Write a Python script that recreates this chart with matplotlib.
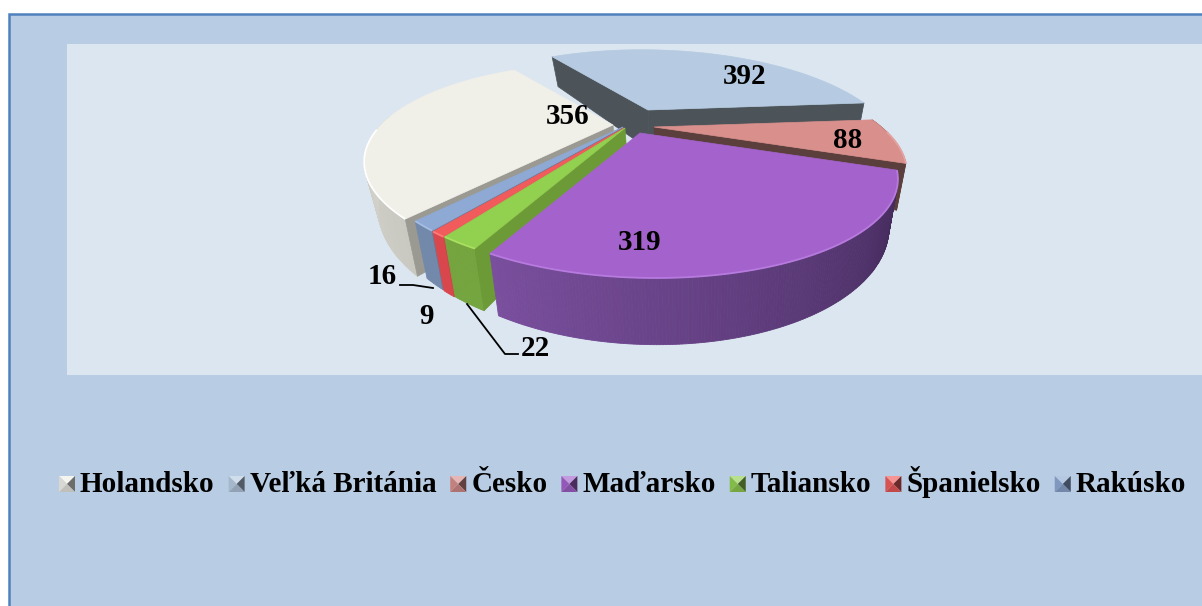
import matplotlib
matplotlib.use('Agg')
import matplotlib.pyplot as plt
from matplotlib.colors import to_rgb
from matplotlib.patches import Polygon, Rectangle
import numpy as np

# data
countries = ['Holandsko', 'Veľká Británia', 'Česko', 'Maďarsko', 'Taliansko', 'Španielsko', 'Rakúsko']
values = [356, 392, 88, 319, 22, 9, 16]

# look of every slice, same order as countries
top_col = ['#f0efe8', '#b6cbe1', '#d98f8c', '#a463cc', '#92d050', '#f15b5b', '#8ea9d3']
rim_start = ['#e6e6de', '#8fa1b5', '#8f5e5c', '#7a4f9e', '#74a53f', '#d9474c', '#7389ab']
rim_end = ['#c9c9c1', '#8fa1b5', '#7a4f4c', '#3f2755', '#74a53f', '#d9474c', '#7389ab']
face_col = ['#9a9a92', '#4c545a', '#5a3f3c', '#4a2f66', '#6c9a37', '#c8474c', '#64789a']
edge_col = ['#ffffff', '#c6d8ea', '#e3a3a0', '#b77ade', '#a9e060', '#ff7a7a', '#a5bde2']
apex_x = [613, 648, 654, 640, 625, 624, 623]
apex_y = [125, 110, 127, 133, 128, 128, 127]
scale = [1.0, 0.97, 0.98, 1.0, 1.0, 1.0, 1.0]
draw_order = [1, 2, 0, 6, 5, 4, 3]
show_faces = [(0,), (0, -1), (-1,), (), (0,), (0,), (0,)]

# data labels, plain layout
label_x = [568, 745, 848, 640, 535, 426, 382]
label_y = [116, 77, 140, 243, 348, 316, 277]
leader_16 = ([400, 413, 433], [285, 285, 288])
leader_22 = ([467, 505, 518], [304, 354, 354])

start_angle = 131.0
persp = 0.4
size_x, shear, size_y = 232.0, 9.5, 87.0
depth = 40.0
vanish_x, vanish_k = 690, 0.043


def ring(theta, i):
    t = np.radians(theta)
    u, v = np.cos(t), np.sin(t)
    w = 1 - persp * v
    x = apex_x[i] + scale[i] * (size_x * u + shear * v) / w
    y = apex_y[i] + scale[i] * size_y * v / w
    return x, y, depth / w


def lower(x, y, d):
    return x + (vanish_x - x) * vanish_k, y + d


def mix(a, b, f):
    a, b = np.array(to_rgb(a)), np.array(to_rgb(b))
    return tuple(a + (b - a) * f)


fig = plt.figure(figsize=(12.02, 6.06), dpi=100, facecolor='white')
ax = fig.add_axes([0, 0, 1, 1])
ax.set_xlim(0, 1202)
ax.set_ylim(606, 0)
ax.axis('off')

ax.add_patch(Rectangle((9, 14), 1200, 600, fc='#b8cce4', ec='#4f81bd', lw=1.8, zorder=0))
ax.add_patch(Rectangle((67, 44), 1140, 331, fc='#dce6f1', ec='none', zorder=1))

spans = np.array(values) / sum(values) * 360
starts = start_angle + np.concatenate(([0], np.cumsum(spans)[:-1]))

z = 2
for i in draw_order:
    th = np.linspace(starts[i], starts[i] + spans[i], max(int(spans[i]) * 2, 3))
    x, y, d = ring(th, i)
    bx, by = lower(x, y, d)
    ax0, ay0 = lower(apex_x[i], apex_y[i], depth)
    front = np.sin(np.radians(th)) > -0.1

    # outer wall, only the part that faces the viewer
    for k in range(len(th) - 1):
        if not (front[k] and front[k + 1]):
            continue
        f = (k + 0.5) / (len(th) - 1)
        c = mix(rim_end[i], rim_start[i], f)
        pts = [(x[k], y[k]), (x[k + 1], y[k + 1]), (bx[k + 1], by[k + 1]), (bx[k], by[k])]
        ax.add_patch(Polygon(pts, fc=c, ec=c, lw=0.6, zorder=z))
    z += 1

    # cut faces
    for k in show_faces[i]:
        pts = [(apex_x[i], apex_y[i]), (x[k], y[k]), (bx[k], by[k]), (ax0, ay0)]
        ax.add_patch(Polygon(pts, fc=face_col[i], ec=face_col[i], lw=0.5, zorder=z))
        z += 1

    # top
    top = np.column_stack((np.r_[apex_x[i], x], np.r_[apex_y[i], y]))
    ax.add_patch(Polygon(top, fc=top_col[i], ec=top_col[i], lw=0.5, zorder=z))
    z += 1
    lit = np.sin(np.radians(th)) > 0.05
    ax.plot(x[lit], y[lit], color=edge_col[i], lw=1.3, zorder=z, solid_capstyle='butt')
    z += 1

ax.plot(*leader_16, color='black', lw=1.3, zorder=z)
ax.plot(*leader_22, color='black', lw=1.3, zorder=z)

font = dict(family='Liberation Serif', weight='bold', color='black')
for i, val in enumerate(values):
    ax.text(label_x[i], label_y[i], str(val), fontsize=21, ha='center', va='center', zorder=z + 1, **font)

# legend, laid out from the measured text widths
fig.canvas.draw()
renderer = fig.canvas.get_renderer()
pos = 59.0
leg_y = 484
box = 8
for i, name in enumerate(countries):
    cx = pos + box
    corners = [(cx - box, leg_y - box), (cx + box, leg_y - box), (cx + box, leg_y + box), (cx - box, leg_y + box)]
    shades = [mix(top_col[i], '#ffffff', 0.35), mix(top_col[i], '#000000', 0.55),
              mix(top_col[i], '#000000', 0.2), mix(top_col[i], '#000000', 0.1)]
    for k in range(4):
        ax.add_patch(Polygon([corners[k], corners[(k + 1) % 4], (cx, leg_y)], fc=shades[k], ec='none', zorder=z))
    t = ax.text(pos + 21, leg_y + 8, name, fontsize=21, ha='left', va='baseline', zorder=z, **font)
    w = t.get_window_extent(renderer).width
    pos += 21 + w + 14

plt.savefig('out.png', dpi=100)
